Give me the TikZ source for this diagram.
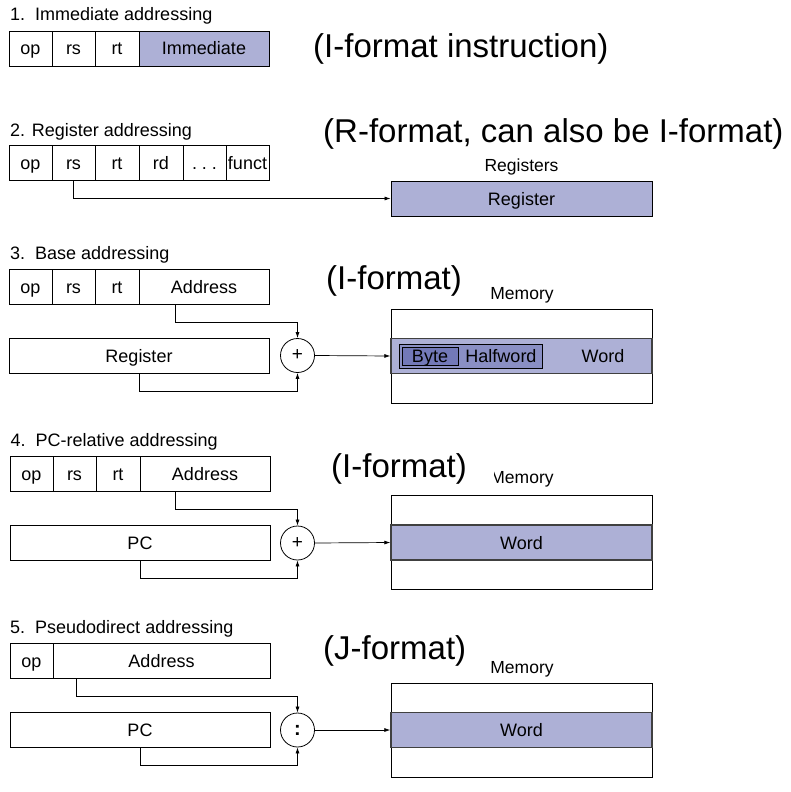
\documentclass[tikz,border=0pt]{standalone}
\usepackage{fontspec}
\setmainfont{Liberation Sans}
\usetikzlibrary{arrows.meta}
\definecolor{regfill}{RGB}{173,176,214}
\definecolor{halffill}{RGB}{138,143,196}
\definecolor{bytefill}{RGB}{115,121,184}
\begin{document}
\begin{tikzpicture}[x=1pt,y=-1pt,
  every node/.style={font=\fontsize{18}{21}\selectfont, inner sep=0pt},
  cell/.style={draw, line width=0.8pt, minimum height=35pt, text height=13pt, text depth=0pt},
  shaded/.style={cell, fill=regfill},
  title/.style={anchor=base west},
  big/.style={anchor=base west, font=\fontsize{33}{38}\selectfont},
  memlabel/.style={anchor=base, font=\fontsize{17.5}{20}\selectfont},
  membox/.style={draw, line width=0.8pt, minimum width=261pt, minimum height=94pt},
  band/.style={draw=black!75, line width=1.3pt, fill=regfill, minimum width=261pt, minimum height=35pt, text height=13pt, text depth=0pt},
  adder/.style={draw, circle, line width=0.8pt, minimum size=34pt},
  arr/.style={-{Latex[length=6pt,width=4pt]}, line width=0.7pt}]
\useasboundingbox (0,0) rectangle (791,792);

% ---------- 1. Immediate ----------
\node[title] (t1) at (10,21) {1.\ \ Immediate addressing};
\node[cell, minimum width=43pt] (op1) at (30.5,48.5) {op};
\node[cell, minimum width=43pt] (rs1) at (73.5,48.5) {rs};
\node[cell, minimum width=44pt] (rt1) at (117,48.5) {rt};
\node[shaded, minimum width=130pt] (imm1) at (204,48.5) {Immediate};
\node[big] (f1) at (313,57) {(I-format instruction)};

% ---------- 2. Register ----------
\node[title] (t2) at (10,136) {2. Register addressing};
\node[cell, minimum width=43pt] (op2) at (30.5,163) {op};
\node[cell, minimum width=43pt] (rs2) at (73.5,163) {rs};
\node[cell, minimum width=44pt] (rt2) at (117,163) {rt};
\node[cell, minimum width=44pt] (rd2) at (161,163) {rd};
\node[cell, minimum width=43pt] (dots2) at (204.5,163) {.\ .\ .};
\node[cell, minimum width=43pt] (funct2) at (247.5,163) {funct};
\node[big] (f2) at (323,142) {(R-format, can also be I-format)};
\node[memlabel] (rl2) at (521.5,171) {Registers};
\node[shaded, minimum width=261pt] (reg2) at (521.5,198.5) {Register};
\draw[arr] (rs2.south) |- (reg2.west);

% ---------- 3. Base ----------
\node[title] (t3) at (10,259) {3.\ \ Base addressing};
\node[cell, minimum width=43pt] (op3) at (30.5,286.5) {op};
\node[cell, minimum width=43pt] (rs3) at (73.5,286.5) {rs};
\node[cell, minimum width=44pt] (rt3) at (117,286.5) {rt};
\node[cell, minimum width=130pt] (addr3) at (204,286.5) {Address};
\node[cell, minimum width=260pt] (reg3) at (139,355.5) {Register};
\node[adder, font=\fontsize{19}{20}\selectfont] (plus3) at (297.5,355.5) {+};
\node[big] (f3) at (326,289) {(I-format)};
\node[memlabel] (ml3) at (522,299) {Memory};
\node[membox] (mem3) at (521.5,356) {};
\node[band] (band3) at (521.5,356) {};
\node[draw, line width=0.8pt, fill=halffill, minimum width=143pt, minimum height=24pt] (half3) at (470.5,356) {};
\node[draw, line width=0.8pt, fill=bytefill, minimum width=56pt, minimum height=18pt, text height=13pt, text depth=0pt] (byte3) at (430,356) {Byte};
\node[text height=13pt, text depth=0pt] (hw3) at (501,356) {Halfword};
\node[text height=13pt, text depth=0pt] (w3) at (603,356) {Word};
\draw[arr] ([xshift=-29pt]addr3.south) -- ++(0,17.5) -| (plus3.north);
\draw[arr] (reg3.south) -- ++(0,17.5) -| (plus3.south);
\draw[arr] (plus3.east) -- (band3.west);

% ---------- 4. PC-relative ----------
\node[title] (t4) at (10.5,446) {4.\ \ PC-relative addressing};
\node[cell, minimum width=43pt] (op4) at (31.5,473.5) {op};
\node[cell, minimum width=43pt] (rs4) at (74.5,473.5) {rs};
\node[cell, minimum width=44pt] (rt4) at (118,473.5) {rt};
\node[cell, minimum width=130pt] (addr4) at (205,473.5) {Address};
\node[cell, minimum width=260pt] (pc4) at (140,542.5) {PC};
\node[adder, font=\fontsize{19}{20}\selectfont] (plus4) at (297.5,543) {+};
\node[memlabel] (ml4) at (522,483) {Memory};
\node[big, fill=white, text width=163pt, align=left] (f4) at (331,477) {(I-format)};
\node[membox] (mem4) at (521.5,542) {};
\node[band] (band4) at (521.5,542.5) {Word};
\draw[arr] ([xshift=-30pt]addr4.south) -- ++(0,17.5) -| (plus4.north);
\draw[arr] (pc4.south) -- ++(0,17.5) -| (plus4.south);
\draw[arr] (plus4.east) -- (band4.west);

% ---------- 5. Pseudodirect ----------
\node[title] (t5) at (10,633) {5.\ \ Pseudodirect addressing};
\node[cell, minimum width=43pt] (op5) at (31.5,660.5) {op};
\node[cell, minimum width=217pt] (addr5) at (161.5,660.5) {Address};
\node[cell, minimum width=260pt] (pc5) at (140,729.5) {PC};
\node[adder, font=\bfseries\fontsize{20}{22}\selectfont] (colon5) at (297.5,730) {:};
\node[big] (f5) at (323,659) {(J-format)};
\node[memlabel] (ml5) at (522,673) {Memory};
\node[membox] (mem5) at (521.5,730) {};
\node[band] (band5) at (521.5,730) {Word};
\draw[arr] ([xshift=-85.5pt]addr5.south) -- ++(0,17.5) -| (colon5.north);
\draw[arr] (pc5.south) -- ++(0,17.5) -| (colon5.south);
\draw[arr] (colon5.east) -- (band5.west);
\end{tikzpicture}
\end{document}
